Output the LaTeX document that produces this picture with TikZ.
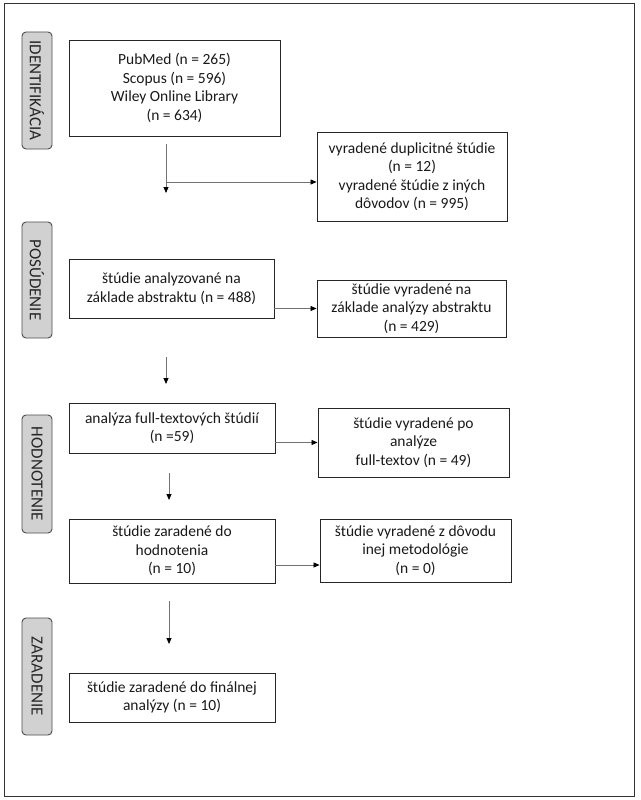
\documentclass[tikz,border=0pt]{standalone}
\usepackage{fontspec}
\setmainfont{Carlito}
\usetikzlibrary{arrows.meta}
\begin{document}
\begin{tikzpicture}[x=1pt,y=-1pt,
 box/.style={draw=black!85, line width=0.9pt, align=center, font=\fontsize{15.5}{18.5}\selectfont, inner sep=0pt, text=black!90},
 phase/.style={draw=black!70, fill=black!18, rounded corners=4pt, line width=0.9pt, rotate=-90, minimum height=30pt, inner sep=0pt, font=\fontsize{17}{18}\selectfont, text=black!85},
 conn/.style={draw=black!55, line width=0.8pt, -{Triangle[length=6pt,width=5pt,color=black]}},
 plain/.style={draw=black!55, line width=0.8pt}]
\useasboundingbox (0,0) rectangle (640,800);
\node[draw=black!80, line width=1pt, minimum width=630pt, minimum height=792pt, inner sep=0pt] (frame) at (319,400) {};

% phase labels
\node[phase, minimum width=117pt] (p1) at (37,90.5) {IDENTIFIKÁCIA};
\node[phase, minimum width=116pt] (p2) at (37,280) {POSÚDENIE};
\node[phase, minimum width=118pt] (p3) at (37,474) {HODNOTENIE};
\node[phase, minimum width=117pt] (p4) at (37,676.5) {ZARADENIE};

% boxes
\node[box, minimum width=211pt, minimum height=96pt] (b1) at (174.5,88) {PubMed (n = 265)\\Scopus (n = 596)\\Wiley Online Library\\(n = 634)};
\node[box, minimum width=190pt, minimum height=89pt] (b2) at (412,176.5) {vyradené duplicitné štúdie\\(n = 12)\\vyradené štúdie z iných\\dôvodov (n = 995)};
\node[box, minimum width=205pt, minimum height=59pt] (b3) at (171.5,288.5) {štúdie analyzované na\\základe abstraktu (n = 488)};
\node[box, minimum width=189pt, minimum height=57pt] (b4) at (411.5,308.5) {štúdie vyradené na\\základe analýzy abstraktu\\(n = 429)};
\node[box, minimum width=206pt, minimum height=50pt] (b5) at (172,428) {analýza full-textových štúdií\\(n =59)};
\node[box, minimum width=191pt, minimum height=69pt] (b6) at (413.5,442.5) {štúdie vyradené po\\analýze\\full-textov (n = 49)};
\node[box, minimum width=206pt, minimum height=64pt] (b7) at (172,551) {štúdie zaradené do\\hodnotenia\\(n = 10)};
\node[box, minimum width=191pt, minimum height=63pt] (b8) at (415.5,550.5) {štúdie vyradené z dôvodu\\inej metodológie\\(n = 0)};
\node[box, minimum width=206pt, minimum height=49pt] (b9) at (172,697.5) {štúdie zaradené do finálnej\\analýzy (n = 10)};

% connectors
\coordinate (a1s) at (166,144);
\coordinate (a1e) at (166,193);
\coordinate (a1m) at (166,182);
\draw[conn] (a1s) -- (a1e);
\draw[conn] (a1m) -- (a1m -| b2.west);

\draw[conn] (b3.east |- b4.west) -- (b4.west);

\coordinate (a2s) at (166,357);
\coordinate (a2e) at (166,384);
\draw[conn] (a2s) -- (a2e);

\draw[conn] (b5.east |- b6.west) -- (b6.west);

\coordinate (a3s) at (169,473);
\coordinate (a3e) at (169,500);
\draw[conn] (a3s) -- (a3e);

\coordinate (a5s) at ([yshift=-14pt]b7.east);
\draw[conn] (a5s) -- (a5s -| b8.west);

\coordinate (a4s) at (169,601);
\coordinate (a4e) at (169,644);
\draw[conn] (a4s) -- (a4e);
\end{tikzpicture}
\end{document}
